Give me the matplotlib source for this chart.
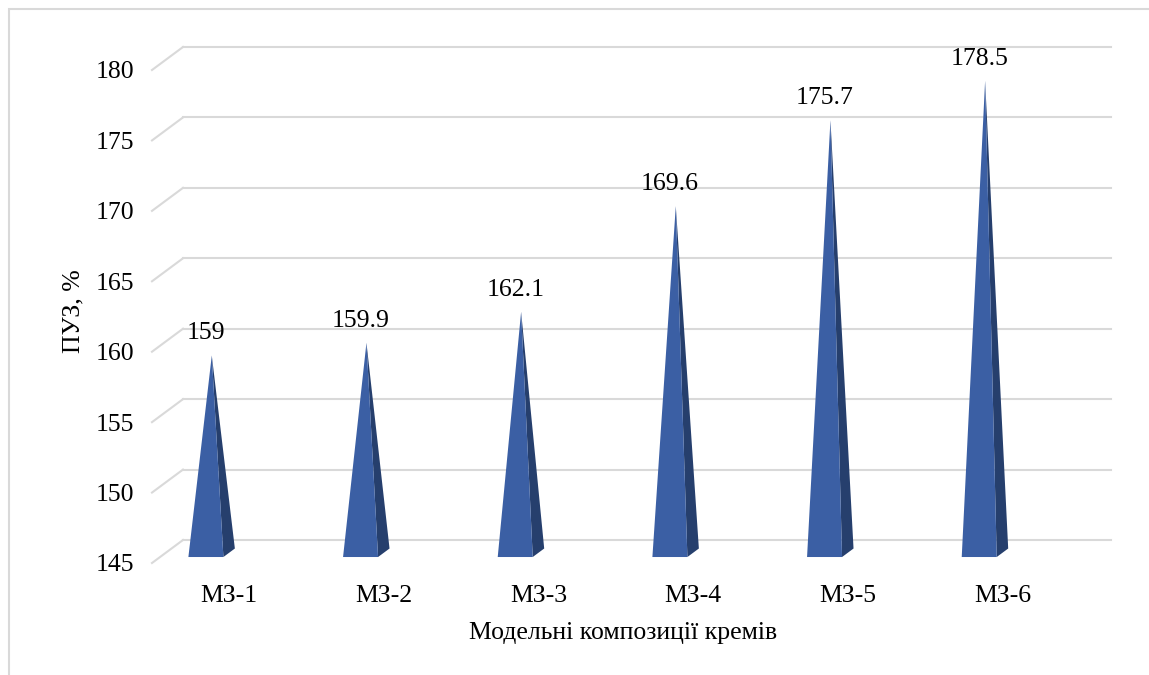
import matplotlib
matplotlib.use('Agg')
import matplotlib.pyplot as plt
from matplotlib.patches import Polygon, Rectangle

plt.rcParams['font.family'] = ['Liberation Serif', 'DejaVu Serif']

# data
categories = ['МЗ-1', 'МЗ-2', 'МЗ-3', 'МЗ-4', 'МЗ-5', 'МЗ-6']
values = [159, 159.9, 162.1, 169.6, 175.7, 178.5]
y_ticks = [145, 150, 155, 160, 165, 170, 175, 180]
x_title = 'Модельні композиції кремів'
y_title = 'ПУЗ, %'

W, H = 1149, 675
FS = 18.5
fig = plt.figure(figsize=(W / 100, H / 100), dpi=100)
ax = fig.add_axes([152 / W, 112 / H, 928 / W, 493 / H])
ax.set_xlim(-0.5, len(categories) - 0.5)
ax.set_ylim(y_ticks[0], y_ticks[-1])

# fake 3d depth, expressed in data units (full depth of the floor)
px_x = 928 / len(categories)
px_y = 493 / (y_ticks[-1] - y_ticks[0])
DX = 31 / px_x
DY = 23 / px_y

grid_c = '#D9D9D9'
x0, x1 = -0.5, len(categories) - 0.5
for v in y_ticks:
    ax.plot([x0, x0 + DX], [v, v + DY], color=grid_c, lw=1.5, clip_on=False, zorder=1)
    ax.plot([x0 + DX, x1 + DX], [v + DY, v + DY], color=grid_c, lw=1.5, clip_on=False, zorder=1)

# pyramids
off = -31.5 / px_x
hw = 17.5 / px_x
d0, d1, da = 0.26, 0.63, 0.45
base = y_ticks[0]
for i, v in enumerate(values):
    cx = i + off
    apex = (cx + da * DX, v + da * DY)
    fl = (cx - hw + d0 * DX, base + d0 * DY)
    fr = (cx + hw + d0 * DX, base + d0 * DY)
    br = (cx + hw + d1 * DX, base + d1 * DY)
    ax.add_patch(Polygon([fr, br, apex], closed=True, facecolor='#263F6D',
                         edgecolor='none', clip_on=False, zorder=2))
    ax.add_patch(Polygon([fl, fr, apex], closed=True, facecolor='#3B5FA4',
                         edgecolor='none', clip_on=False, zorder=3))
    ax.annotate(f'{v:g}', (cx + d0 * DX, v + da * DY), xytext=(0, 16),
                textcoords='offset points', ha='center', va='center',
                fontsize=FS, color='black', zorder=4)

ax.set_xticks(range(len(categories)))
ax.set_xticklabels(categories, fontsize=FS)
ax.set_yticks(y_ticks)
ax.set_yticklabels([str(t) for t in y_ticks], fontsize=FS)
ax.tick_params(axis='x', length=0, pad=16)
ax.tick_params(axis='y', length=0, pad=13)
for s in ax.spines.values():
    s.set_visible(False)
ax.patch.set_visible(False)

fig.text(623 / W, 1 - 633 / H, x_title, ha='center', va='center', fontsize=FS)
fig.text(73 / W, 1 - 311 / H, y_title, ha='center', va='center', rotation=90, fontsize=FS)

# chart area border (only left/top visible in the crop)
fig.add_artist(Rectangle((9 / W, -0.1), 1.2, 1 - 9 / H + 0.1, transform=fig.transFigure,
                         fill=False, edgecolor=grid_c, lw=1.5))

fig.savefig('out.png', dpi=100)
